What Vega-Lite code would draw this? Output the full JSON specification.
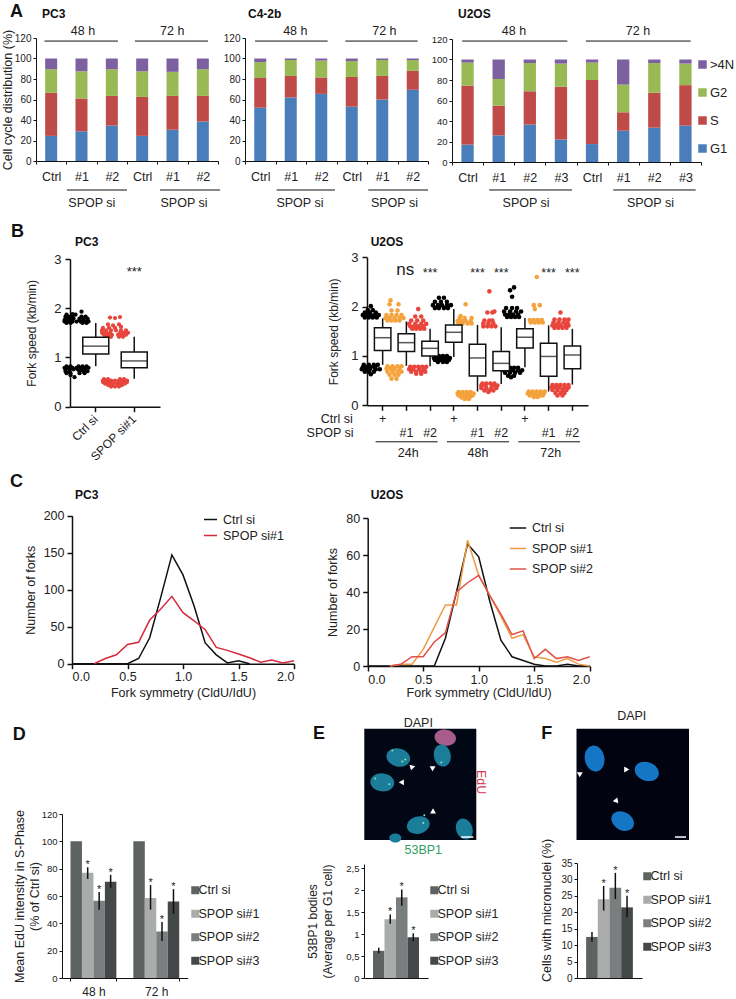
{"$schema":"https://vega.github.io/schema/vega-lite/v6.json","autosize":{"type":"none"},"padding":{"left":0,"top":38,"right":736,"bottom":961},"background":"white","resolve":{"scale":{"color":"independent","size":"independent"},"legend":{"color":"independent","size":"independent"}},"config":{"font":"Liberation Sans","view":{"stroke":null},"axis":{"grid":false,"labelOverlap":false,"domainColor":"#111","tickColor":"#111","labelColor":"#222","titleColor":"#222","titleFontWeight":"normal"},"legend":{"labelColor":"#222"},"title":{"color":"#111"}},
"datasets":{
"a1":[{"c":"48 Ctrl","p":"G1","v":24.5},{"c":"48 Ctrl","p":"S","v":42},{"c":"48 Ctrl","p":"G2","v":23},{"c":"48 Ctrl","p":">4N","v":10.5},{"c":"48 #1","p":"G1","v":29},{"c":"48 #1","p":"S","v":32},{"c":"48 #1","p":"G2","v":26.5},{"c":"48 #1","p":">4N","v":12.5},{"c":"48 #2","p":"G1","v":34.5},{"c":"48 #2","p":"S","v":29},{"c":"48 #2","p":"G2","v":26},{"c":"48 #2","p":">4N","v":10.5},{"c":"72 Ctrl","p":"G1","v":24.5},{"c":"72 Ctrl","p":"S","v":38},{"c":"72 Ctrl","p":"G2","v":25},{"c":"72 Ctrl","p":">4N","v":12.5},{"c":"72 #1","p":"G1","v":30.5},{"c":"72 #1","p":"S","v":33},{"c":"72 #1","p":"G2","v":23.5},{"c":"72 #1","p":">4N","v":13},{"c":"72 #2","p":"G1","v":38.5},{"c":"72 #2","p":"S","v":25},{"c":"72 #2","p":"G2","v":26},{"c":"72 #2","p":">4N","v":10.5}],
"a2":[{"c":"48 Ctrl","p":"G1","v":52},{"c":"48 Ctrl","p":"S","v":29},{"c":"48 Ctrl","p":"G2","v":15.5},{"c":"48 Ctrl","p":">4N","v":3.5},{"c":"48 #1","p":"G1","v":62},{"c":"48 #1","p":"S","v":21},{"c":"48 #1","p":"G2","v":15.5},{"c":"48 #1","p":">4N","v":1.5},{"c":"48 #2","p":"G1","v":65.5},{"c":"48 #2","p":"S","v":16},{"c":"48 #2","p":"G2","v":16.5},{"c":"48 #2","p":">4N","v":2},{"c":"72 Ctrl","p":"G1","v":53},{"c":"72 Ctrl","p":"S","v":29},{"c":"72 Ctrl","p":"G2","v":15.5},{"c":"72 Ctrl","p":">4N","v":2.5},{"c":"72 #1","p":"G1","v":60},{"c":"72 #1","p":"S","v":23},{"c":"72 #1","p":"G2","v":15.5},{"c":"72 #1","p":">4N","v":1.5},{"c":"72 #2","p":"G1","v":69.5},{"c":"72 #2","p":"S","v":18.5},{"c":"72 #2","p":"G2","v":10.5},{"c":"72 #2","p":">4N","v":1.5}],
"a3":[{"c":"48 Ctrl","p":"G1","v":17},{"c":"48 Ctrl","p":"S","v":57.5},{"c":"48 Ctrl","p":"G2","v":22.5},{"c":"48 Ctrl","p":">4N","v":3},{"c":"48 #1","p":"G1","v":26},{"c":"48 #1","p":"S","v":29},{"c":"48 #1","p":"G2","v":26},{"c":"48 #1","p":">4N","v":19},{"c":"48 #2","p":"G1","v":36.5},{"c":"48 #2","p":"S","v":32.5},{"c":"48 #2","p":"G2","v":27.5},{"c":"48 #2","p":">4N","v":3.5},{"c":"48 #3","p":"G1","v":22},{"c":"48 #3","p":"S","v":51.5},{"c":"48 #3","p":"G2","v":22.5},{"c":"48 #3","p":">4N","v":4},{"c":"72 Ctrl","p":"G1","v":17.5},{"c":"72 Ctrl","p":"S","v":62.5},{"c":"72 Ctrl","p":"G2","v":17},{"c":"72 Ctrl","p":">4N","v":3},{"c":"72 #1","p":"G1","v":30.5},{"c":"72 #1","p":"S","v":18},{"c":"72 #1","p":"G2","v":27},{"c":"72 #1","p":">4N","v":24.5},{"c":"72 #2","p":"G1","v":33.5},{"c":"72 #2","p":"S","v":34},{"c":"72 #2","p":"G2","v":29},{"c":"72 #2","p":">4N","v":3.5},{"c":"72 #3","p":"G1","v":35.5},{"c":"72 #3","p":"S","v":39.5},{"c":"72 #3","p":"G2","v":21},{"c":"72 #3","p":">4N","v":4}],
"b1box":[{"g":"Ctrl si","lo":0.82,"q1":1.07,"m":1.23,"q3":1.41,"hi":1.7},{"g":"SPOP si#1","lo":0.57,"q1":0.79,"m":0.93,"q3":1.11,"hi":1.42}],
"b1out":[{"g":"Ctrl si","d":-10,"v":1.7},{"g":"Ctrl si","d":-6,"v":1.7},{"g":"Ctrl si","d":6,"v":1.7},{"g":"Ctrl si","d":10,"v":1.7},{"g":"Ctrl si","d":-12,"v":1.73},{"g":"Ctrl si","d":-8,"v":1.73},{"g":"Ctrl si","d":-4,"v":1.73},{"g":"Ctrl si","d":0,"v":1.73},{"g":"Ctrl si","d":4,"v":1.73},{"g":"Ctrl si","d":8,"v":1.73},{"g":"Ctrl si","d":12,"v":1.73},{"g":"Ctrl si","d":-12,"v":1.76},{"g":"Ctrl si","d":-9,"v":1.76},{"g":"Ctrl si","d":-5,"v":1.76},{"g":"Ctrl si","d":3,"v":1.76},{"g":"Ctrl si","d":7,"v":1.76},{"g":"Ctrl si","d":11,"v":1.76},{"g":"Ctrl si","d":-11,"v":1.79},{"g":"Ctrl si","d":-7,"v":1.79},{"g":"Ctrl si","d":-3,"v":1.79},{"g":"Ctrl si","d":3,"v":1.79},{"g":"Ctrl si","d":7,"v":1.79},{"g":"Ctrl si","d":11,"v":1.79},{"g":"Ctrl si","d":-11,"v":1.83},{"g":"Ctrl si","d":-8,"v":1.83},{"g":"Ctrl si","d":-4,"v":1.83},{"g":"Ctrl si","d":5,"v":1.83},{"g":"Ctrl si","d":9,"v":1.83},{"g":"Ctrl si","d":-10,"v":1.87},{"g":"Ctrl si","d":-1,"v":1.87},{"g":"Ctrl si","d":-4,"v":1.88},{"g":"Ctrl si","d":5,"v":1.93},
{"g":"Ctrl si","d":-10,"v":0.82},{"g":"Ctrl si","d":-6,"v":0.82},{"g":"Ctrl si","d":2,"v":0.82},{"g":"Ctrl si","d":6,"v":0.82},{"g":"Ctrl si","d":10,"v":0.82},{"g":"Ctrl si","d":-12,"v":0.79},{"g":"Ctrl si","d":-8,"v":0.79},{"g":"Ctrl si","d":-4,"v":0.79},{"g":"Ctrl si","d":0,"v":0.79},{"g":"Ctrl si","d":4,"v":0.79},{"g":"Ctrl si","d":8,"v":0.79},{"g":"Ctrl si","d":12,"v":0.79},{"g":"Ctrl si","d":-11,"v":0.76},{"g":"Ctrl si","d":-7,"v":0.76},{"g":"Ctrl si","d":-3,"v":0.76},{"g":"Ctrl si","d":1,"v":0.76},{"g":"Ctrl si","d":5,"v":0.76},{"g":"Ctrl si","d":9,"v":0.76},{"g":"Ctrl si","d":-11,"v":0.72},{"g":"Ctrl si","d":-7,"v":0.72},{"g":"Ctrl si","d":3,"v":0.72},{"g":"Ctrl si","d":7,"v":0.72},{"g":"Ctrl si","d":11,"v":0.72},{"g":"Ctrl si","d":-10,"v":0.68},{"g":"Ctrl si","d":-6,"v":0.68},{"g":"Ctrl si","d":3,"v":0.68},{"g":"Ctrl si","d":8,"v":0.68},{"g":"Ctrl si","d":-6,"v":0.64},{"g":"Ctrl si","d":-2,"v":0.6},
{"g":"SPOP si#1","d":-8,"v":1.42},{"g":"SPOP si#1","d":-4,"v":1.42},{"g":"SPOP si#1","d":4,"v":1.42},{"g":"SPOP si#1","d":8,"v":1.42},{"g":"SPOP si#1","d":-11,"v":1.46},{"g":"SPOP si#1","d":-7,"v":1.46},{"g":"SPOP si#1","d":-3,"v":1.46},{"g":"SPOP si#1","d":3,"v":1.46},{"g":"SPOP si#1","d":7,"v":1.46},{"g":"SPOP si#1","d":11,"v":1.46},{"g":"SPOP si#1","d":-13,"v":1.5},{"g":"SPOP si#1","d":-9,"v":1.5},{"g":"SPOP si#1","d":-5,"v":1.5},{"g":"SPOP si#1","d":5,"v":1.5},{"g":"SPOP si#1","d":9,"v":1.5},{"g":"SPOP si#1","d":13,"v":1.5},{"g":"SPOP si#1","d":-13,"v":1.55},{"g":"SPOP si#1","d":-9,"v":1.55},{"g":"SPOP si#1","d":-4,"v":1.55},{"g":"SPOP si#1","d":1,"v":1.55},{"g":"SPOP si#1","d":6,"v":1.55},{"g":"SPOP si#1","d":11,"v":1.55},{"g":"SPOP si#1","d":-12,"v":1.6},{"g":"SPOP si#1","d":-6,"v":1.6},{"g":"SPOP si#1","d":0,"v":1.6},{"g":"SPOP si#1","d":6,"v":1.62},{"g":"SPOP si#1","d":-7,"v":1.67},{"g":"SPOP si#1","d":-2,"v":1.65},{"g":"SPOP si#1","d":4,"v":1.67},{"g":"SPOP si#1","d":-5,"v":1.81},{"g":"SPOP si#1","d":0,"v":1.8},{"g":"SPOP si#1","d":5,"v":1.82},
{"g":"SPOP si#1","d":-11,"v":0.56},{"g":"SPOP si#1","d":-7,"v":0.56},{"g":"SPOP si#1","d":5,"v":0.56},{"g":"SPOP si#1","d":9,"v":0.56},{"g":"SPOP si#1","d":-12,"v":0.53},{"g":"SPOP si#1","d":-8,"v":0.53},{"g":"SPOP si#1","d":-4,"v":0.53},{"g":"SPOP si#1","d":0,"v":0.53},{"g":"SPOP si#1","d":4,"v":0.53},{"g":"SPOP si#1","d":8,"v":0.53},{"g":"SPOP si#1","d":12,"v":0.53},{"g":"SPOP si#1","d":-12,"v":0.5},{"g":"SPOP si#1","d":-8,"v":0.5},{"g":"SPOP si#1","d":-4,"v":0.5},{"g":"SPOP si#1","d":4,"v":0.5},{"g":"SPOP si#1","d":8,"v":0.5},{"g":"SPOP si#1","d":12,"v":0.5},{"g":"SPOP si#1","d":-10,"v":0.47},{"g":"SPOP si#1","d":-6,"v":0.47},{"g":"SPOP si#1","d":-2,"v":0.47},{"g":"SPOP si#1","d":2,"v":0.47},{"g":"SPOP si#1","d":6,"v":0.47},{"g":"SPOP si#1","d":10,"v":0.47},{"g":"SPOP si#1","d":-7,"v":0.44},{"g":"SPOP si#1","d":-3,"v":0.44},{"g":"SPOP si#1","d":3,"v":0.44},{"g":"SPOP si#1","d":7,"v":0.44},{"g":"SPOP si#1","d":-4,"v":0.41},{"g":"SPOP si#1","d":0,"v":0.41},{"g":"SPOP si#1","d":4,"v":0.41}],
"b2box":[{"g":"24 Ctrl","lo":0.82,"q1":1.11,"m":1.37,"q3":1.57,"hi":1.76},{"g":"24 #1","lo":0.8,"q1":1.09,"m":1.27,"q3":1.45,"hi":1.7},{"g":"24 #2","lo":0.79,"q1":1,"m":1.155,"q3":1.3,"hi":1.55},{"g":"48 Ctrl","lo":0.98,"q1":1.28,"m":1.48,"q3":1.63,"hi":1.95},{"g":"48 #1","lo":0.28,"q1":0.595,"m":0.96,"q3":1.24,"hi":1.63},{"g":"48 #2","lo":0.43,"q1":0.7,"m":0.85,"q3":1.09,"hi":1.58},{"g":"72 Ctrl","lo":0.77,"q1":1.16,"m":1.38,"q3":1.55,"hi":1.77},{"g":"72 #1","lo":0.28,"q1":0.59,"m":0.99,"q3":1.26,"hi":1.62},{"g":"72 #2","lo":0.42,"q1":0.74,"m":1.02,"q3":1.2,"hi":1.55}],
"b2out":[{"g":"24 Ctrl","d":-6,"v":1.78},{"g":"24 Ctrl","d":-2,"v":1.78},{"g":"24 Ctrl","d":2,"v":1.78},{"g":"24 Ctrl","d":6,"v":1.78},{"g":"24 Ctrl","d":-8,"v":1.83},{"g":"24 Ctrl","d":-4,"v":1.83},{"g":"24 Ctrl","d":0,"v":1.83},{"g":"24 Ctrl","d":4,"v":1.83},{"g":"24 Ctrl","d":8,"v":1.83},{"g":"24 Ctrl","d":-6,"v":1.88},{"g":"24 Ctrl","d":-1,"v":1.88},{"g":"24 Ctrl","d":5,"v":1.88},{"g":"24 Ctrl","d":-3,"v":1.93},{"g":"24 Ctrl","d":2,"v":1.93},{"g":"24 Ctrl","d":0,"v":2.01},{"g":"24 Ctrl","d":-7,"v":0.82},{"g":"24 Ctrl","d":-2,"v":0.82},{"g":"24 Ctrl","d":3,"v":0.82},{"g":"24 Ctrl","d":7,"v":0.82},{"g":"24 Ctrl","d":-8,"v":0.77},{"g":"24 Ctrl","d":-4,"v":0.77},{"g":"24 Ctrl","d":0,"v":0.77},{"g":"24 Ctrl","d":4,"v":0.77},{"g":"24 Ctrl","d":-9,"v":0.73},{"g":"24 Ctrl","d":-5,"v":0.73},{"g":"24 Ctrl","d":-1,"v":0.73},{"g":"24 Ctrl","d":5,"v":0.73},{"g":"24 Ctrl","d":9,"v":0.73},{"g":"24 Ctrl","d":-6,"v":0.68},{"g":"24 Ctrl","d":-2,"v":0.68},{"g":"24 Ctrl","d":3,"v":0.68},{"g":"24 Ctrl","d":0,"v":0.63},
{"g":"24 #1","d":-7,"v":1.72},{"g":"24 #1","d":-3,"v":1.72},{"g":"24 #1","d":1,"v":1.72},{"g":"24 #1","d":5,"v":1.72},{"g":"24 #1","d":-9,"v":1.77},{"g":"24 #1","d":-5,"v":1.77},{"g":"24 #1","d":0,"v":1.77},{"g":"24 #1","d":5,"v":1.77},{"g":"24 #1","d":9,"v":1.77},{"g":"24 #1","d":-8,"v":1.83},{"g":"24 #1","d":-3,"v":1.83},{"g":"24 #1","d":2,"v":1.83},{"g":"24 #1","d":7,"v":1.83},{"g":"24 #1","d":-3,"v":1.92},{"g":"24 #1","d":3,"v":1.92},{"g":"24 #1","d":-5,"v":2.05},{"g":"24 #1","d":4,"v":2.05},{"g":"24 #1","d":-4,"v":2.13},{"g":"24 #1","d":-7,"v":0.79},{"g":"24 #1","d":-2,"v":0.79},{"g":"24 #1","d":3,"v":0.79},{"g":"24 #1","d":7,"v":0.79},{"g":"24 #1","d":-8,"v":0.74},{"g":"24 #1","d":-4,"v":0.74},{"g":"24 #1","d":0,"v":0.74},{"g":"24 #1","d":5,"v":0.74},{"g":"24 #1","d":-7,"v":0.68},{"g":"24 #1","d":-2,"v":0.68},{"g":"24 #1","d":3,"v":0.68},{"g":"24 #1","d":7,"v":0.68},{"g":"24 #1","d":-5,"v":0.62},{"g":"24 #1","d":0,"v":0.62},{"g":"24 #1","d":4,"v":0.62},{"g":"24 #1","d":-3,"v":0.54},{"g":"24 #1","d":2,"v":0.54},
{"g":"24 #2","d":-6,"v":1.55},{"g":"24 #2","d":-2,"v":1.55},{"g":"24 #2","d":2,"v":1.55},{"g":"24 #2","d":6,"v":1.55},{"g":"24 #2","d":-8,"v":1.6},{"g":"24 #2","d":-4,"v":1.6},{"g":"24 #2","d":0,"v":1.6},{"g":"24 #2","d":5,"v":1.6},{"g":"24 #2","d":-9,"v":1.65},{"g":"24 #2","d":-3,"v":1.65},{"g":"24 #2","d":3,"v":1.65},{"g":"24 #2","d":8,"v":1.65},{"g":"24 #2","d":-7,"v":1.72},{"g":"24 #2","d":-1,"v":1.72},{"g":"24 #2","d":5,"v":1.72},{"g":"24 #2","d":-3,"v":1.8},{"g":"24 #2","d":3,"v":1.8},{"g":"24 #2","d":0,"v":1.95},{"g":"24 #2","d":-8,"v":0.78},{"g":"24 #2","d":-4,"v":0.78},{"g":"24 #2","d":0,"v":0.78},{"g":"24 #2","d":4,"v":0.78},{"g":"24 #2","d":8,"v":0.78},{"g":"24 #2","d":-9,"v":0.73},{"g":"24 #2","d":-5,"v":0.73},{"g":"24 #2","d":1,"v":0.73},{"g":"24 #2","d":6,"v":0.73},{"g":"24 #2","d":-7,"v":0.68},{"g":"24 #2","d":-2,"v":0.68},{"g":"24 #2","d":3,"v":0.68},{"g":"24 #2","d":7,"v":0.68},{"g":"24 #2","d":-2,"v":0.64},{"g":"24 #2","d":3,"v":0.64},
{"g":"48 Ctrl","d":-7,"v":1.97},{"g":"48 Ctrl","d":-3,"v":1.97},{"g":"48 Ctrl","d":2,"v":1.97},{"g":"48 Ctrl","d":6,"v":1.97},{"g":"48 Ctrl","d":-9,"v":2.03},{"g":"48 Ctrl","d":-4,"v":2.03},{"g":"48 Ctrl","d":0,"v":2.03},{"g":"48 Ctrl","d":5,"v":2.03},{"g":"48 Ctrl","d":9,"v":2.03},{"g":"48 Ctrl","d":-7,"v":2.1},{"g":"48 Ctrl","d":-1,"v":2.1},{"g":"48 Ctrl","d":5,"v":2.1},{"g":"48 Ctrl","d":-3,"v":2.18},{"g":"48 Ctrl","d":2,"v":2.18},{"g":"48 Ctrl","d":-7,"v":1},{"g":"48 Ctrl","d":-3,"v":1},{"g":"48 Ctrl","d":1,"v":1},{"g":"48 Ctrl","d":5,"v":1},{"g":"48 Ctrl","d":-8,"v":0.96},{"g":"48 Ctrl","d":-4,"v":0.96},{"g":"48 Ctrl","d":0,"v":0.96},{"g":"48 Ctrl","d":4,"v":0.96},{"g":"48 Ctrl","d":8,"v":0.96},{"g":"48 Ctrl","d":-7,"v":0.92},{"g":"48 Ctrl","d":-2,"v":0.92},{"g":"48 Ctrl","d":3,"v":0.92},{"g":"48 Ctrl","d":7,"v":0.92},{"g":"48 Ctrl","d":-4,"v":0.88},{"g":"48 Ctrl","d":1,"v":0.88},{"g":"48 Ctrl","d":5,"v":0.88},
{"g":"48 #1","d":-7,"v":1.66},{"g":"48 #1","d":-3,"v":1.66},{"g":"48 #1","d":2,"v":1.66},{"g":"48 #1","d":6,"v":1.66},{"g":"48 #1","d":-8,"v":1.71},{"g":"48 #1","d":-4,"v":1.71},{"g":"48 #1","d":0,"v":1.71},{"g":"48 #1","d":5,"v":1.71},{"g":"48 #1","d":-6,"v":1.77},{"g":"48 #1","d":-1,"v":1.77},{"g":"48 #1","d":6,"v":1.77},{"g":"48 #1","d":-5,"v":1.81},{"g":"48 #1","d":0,"v":2.05},{"g":"48 #1","d":-7,"v":0.27},{"g":"48 #1","d":-3,"v":0.27},{"g":"48 #1","d":1,"v":0.27},{"g":"48 #1","d":5,"v":0.27},{"g":"48 #1","d":-8,"v":0.24},{"g":"48 #1","d":-4,"v":0.24},{"g":"48 #1","d":0,"v":0.24},{"g":"48 #1","d":4,"v":0.24},{"g":"48 #1","d":8,"v":0.24},{"g":"48 #1","d":-7,"v":0.2},{"g":"48 #1","d":-2,"v":0.2},{"g":"48 #1","d":3,"v":0.2},{"g":"48 #1","d":7,"v":0.2},{"g":"48 #1","d":-4,"v":0.16},{"g":"48 #1","d":0,"v":0.16},{"g":"48 #1","d":4,"v":0.16},{"g":"48 #1","d":-1,"v":0.13},{"g":"48 #1","d":3,"v":0.13},
{"g":"48 #2","d":-6,"v":1.6},{"g":"48 #2","d":-2,"v":1.6},{"g":"48 #2","d":2,"v":1.6},{"g":"48 #2","d":6,"v":1.6},{"g":"48 #2","d":-6,"v":1.66},{"g":"48 #2","d":-1,"v":1.66},{"g":"48 #2","d":4,"v":1.66},{"g":"48 #2","d":-5,"v":1.72},{"g":"48 #2","d":0,"v":1.72},{"g":"48 #2","d":3,"v":1.72},{"g":"48 #2","d":-2,"v":1.88},{"g":"48 #2","d":3,"v":1.88},{"g":"48 #2","d":5,"v":1.9},{"g":"48 #2","d":0,"v":2.31},{"g":"48 #2","d":-7,"v":0.44},{"g":"48 #2","d":-3,"v":0.44},{"g":"48 #2","d":1,"v":0.44},{"g":"48 #2","d":5,"v":0.44},{"g":"48 #2","d":-8,"v":0.4},{"g":"48 #2","d":-4,"v":0.4},{"g":"48 #2","d":4,"v":0.4},{"g":"48 #2","d":8,"v":0.4},{"g":"48 #2","d":-8,"v":0.35},{"g":"48 #2","d":-3,"v":0.35},{"g":"48 #2","d":2,"v":0.35},{"g":"48 #2","d":7,"v":0.35},{"g":"48 #2","d":-5,"v":0.3},{"g":"48 #2","d":0,"v":0.3},{"g":"48 #2","d":4,"v":0.3},{"g":"48 #2","d":-1,"v":0.27},
{"g":"72 Ctrl","d":-6,"v":1.79},{"g":"72 Ctrl","d":-2,"v":1.79},{"g":"72 Ctrl","d":2,"v":1.79},{"g":"72 Ctrl","d":6,"v":1.79},{"g":"72 Ctrl","d":-8,"v":1.84},{"g":"72 Ctrl","d":-4,"v":1.84},{"g":"72 Ctrl","d":0,"v":1.84},{"g":"72 Ctrl","d":5,"v":1.84},{"g":"72 Ctrl","d":-9,"v":1.9},{"g":"72 Ctrl","d":-3,"v":1.9},{"g":"72 Ctrl","d":3,"v":1.9},{"g":"72 Ctrl","d":8,"v":1.9},{"g":"72 Ctrl","d":-7,"v":1.97},{"g":"72 Ctrl","d":-1,"v":1.97},{"g":"72 Ctrl","d":4,"v":1.97},{"g":"72 Ctrl","d":-1,"v":2.2},{"g":"72 Ctrl","d":-3,"v":2.33},{"g":"72 Ctrl","d":1,"v":2.39},{"g":"72 Ctrl","d":-7,"v":0.76},{"g":"72 Ctrl","d":-3,"v":0.76},{"g":"72 Ctrl","d":1,"v":0.76},{"g":"72 Ctrl","d":5,"v":0.76},{"g":"72 Ctrl","d":-9,"v":0.71},{"g":"72 Ctrl","d":-4,"v":0.71},{"g":"72 Ctrl","d":0,"v":0.71},{"g":"72 Ctrl","d":5,"v":0.71},{"g":"72 Ctrl","d":9,"v":0.71},{"g":"72 Ctrl","d":-8,"v":0.66},{"g":"72 Ctrl","d":-3,"v":0.66},{"g":"72 Ctrl","d":2,"v":0.66},{"g":"72 Ctrl","d":7,"v":0.66},{"g":"72 Ctrl","d":-5,"v":0.6},{"g":"72 Ctrl","d":1,"v":0.6},{"g":"72 Ctrl","d":-2,"v":0.57},
{"g":"72 #1","d":-6,"v":1.68},{"g":"72 #1","d":-2,"v":1.68},{"g":"72 #1","d":2,"v":1.68},{"g":"72 #1","d":6,"v":1.68},{"g":"72 #1","d":-7,"v":1.73},{"g":"72 #1","d":-3,"v":1.73},{"g":"72 #1","d":1,"v":1.73},{"g":"72 #1","d":5,"v":1.73},{"g":"72 #1","d":-2,"v":1.95},{"g":"72 #1","d":-3,"v":2.03},{"g":"72 #1","d":3,"v":2.03},{"g":"72 #1","d":0,"v":2.6},{"g":"72 #1","d":-8,"v":0.28},{"g":"72 #1","d":-4,"v":0.28},{"g":"72 #1","d":0,"v":0.28},{"g":"72 #1","d":4,"v":0.28},{"g":"72 #1","d":8,"v":0.28},{"g":"72 #1","d":-9,"v":0.24},{"g":"72 #1","d":-5,"v":0.24},{"g":"72 #1","d":-1,"v":0.24},{"g":"72 #1","d":3,"v":0.24},{"g":"72 #1","d":7,"v":0.24},{"g":"72 #1","d":-7,"v":0.2},{"g":"72 #1","d":-2,"v":0.2},{"g":"72 #1","d":3,"v":0.2},{"g":"72 #1","d":6,"v":0.2},{"g":"72 #1","d":-3,"v":0.17},{"g":"72 #1","d":1,"v":0.17},
{"g":"72 #2","d":-6,"v":1.57},{"g":"72 #2","d":-2,"v":1.57},{"g":"72 #2","d":2,"v":1.57},{"g":"72 #2","d":6,"v":1.57},{"g":"72 #2","d":-8,"v":1.62},{"g":"72 #2","d":-4,"v":1.62},{"g":"72 #2","d":0,"v":1.62},{"g":"72 #2","d":5,"v":1.62},{"g":"72 #2","d":8,"v":1.62},{"g":"72 #2","d":-7,"v":1.68},{"g":"72 #2","d":-2,"v":1.68},{"g":"72 #2","d":3,"v":1.68},{"g":"72 #2","d":7,"v":1.68},{"g":"72 #2","d":-6,"v":1.74},{"g":"72 #2","d":-1,"v":1.74},{"g":"72 #2","d":4,"v":1.74},{"g":"72 #2","d":8,"v":1.74},{"g":"72 #2","d":0,"v":1.88},{"g":"72 #2","d":-8,"v":0.41},{"g":"72 #2","d":-4,"v":0.41},{"g":"72 #2","d":0,"v":0.41},{"g":"72 #2","d":4,"v":0.41},{"g":"72 #2","d":8,"v":0.41},{"g":"72 #2","d":-9,"v":0.36},{"g":"72 #2","d":-5,"v":0.36},{"g":"72 #2","d":-1,"v":0.36},{"g":"72 #2","d":4,"v":0.36},{"g":"72 #2","d":8,"v":0.36},{"g":"72 #2","d":-8,"v":0.31},{"g":"72 #2","d":-3,"v":0.31},{"g":"72 #2","d":2,"v":0.31},{"g":"72 #2","d":6,"v":0.31},{"g":"72 #2","d":-5,"v":0.25},{"g":"72 #2","d":0,"v":0.25},{"g":"72 #2","d":4,"v":0.25},{"g":"72 #2","d":-3,"v":0.2},{"g":"72 #2","d":2,"v":0.2}],
"c1":[{"s":"Ctrl si","x":0,"n":0},{"s":"Ctrl si","x":0.5,"n":0},{"s":"Ctrl si","x":0.6,"n":7},{"s":"Ctrl si","x":0.7,"n":35},{"s":"Ctrl si","x":0.8,"n":90},{"s":"Ctrl si","x":0.9,"n":147},{"s":"Ctrl si","x":1,"n":120},{"s":"Ctrl si","x":1.1,"n":78},{"s":"Ctrl si","x":1.2,"n":28},{"s":"Ctrl si","x":1.3,"n":12},{"s":"Ctrl si","x":1.4,"n":1},{"s":"Ctrl si","x":1.5,"n":4},{"s":"Ctrl si","x":1.6,"n":0},{"s":"SPOP si#1","x":0.2,"n":0},{"s":"SPOP si#1","x":0.3,"n":7},{"s":"SPOP si#1","x":0.4,"n":12},{"s":"SPOP si#1","x":0.5,"n":26},{"s":"SPOP si#1","x":0.6,"n":29},{"s":"SPOP si#1","x":0.7,"n":59},{"s":"SPOP si#1","x":0.8,"n":74},{"s":"SPOP si#1","x":0.9,"n":91},{"s":"SPOP si#1","x":1,"n":69},{"s":"SPOP si#1","x":1.1,"n":58},{"s":"SPOP si#1","x":1.2,"n":46},{"s":"SPOP si#1","x":1.3,"n":22},{"s":"SPOP si#1","x":1.4,"n":18},{"s":"SPOP si#1","x":1.5,"n":13},{"s":"SPOP si#1","x":1.6,"n":8},{"s":"SPOP si#1","x":1.7,"n":2},{"s":"SPOP si#1","x":1.8,"n":5},{"s":"SPOP si#1","x":1.9,"n":1},{"s":"SPOP si#1","x":2,"n":4}],
"c2":[{"s":"Ctrl si","x":0,"n":0},{"s":"Ctrl si","x":0.6,"n":0},{"s":"Ctrl si","x":0.7,"n":15},{"s":"Ctrl si","x":0.8,"n":40},{"s":"Ctrl si","x":0.9,"n":66},{"s":"Ctrl si","x":1,"n":59},{"s":"Ctrl si","x":1.1,"n":35},{"s":"Ctrl si","x":1.2,"n":14},{"s":"Ctrl si","x":1.3,"n":5},{"s":"Ctrl si","x":1.4,"n":3},{"s":"Ctrl si","x":1.5,"n":1},{"s":"Ctrl si","x":1.6,"n":0},{"s":"Ctrl si","x":1.7,"n":0},{"s":"Ctrl si","x":1.8,"n":1},{"s":"Ctrl si","x":1.9,"n":0},{"s":"Ctrl si","x":2,"n":0},{"s":"SPOP si#1","x":0.2,"n":0},{"s":"SPOP si#1","x":0.3,"n":1},{"s":"SPOP si#1","x":0.4,"n":1},{"s":"SPOP si#1","x":0.5,"n":9},{"s":"SPOP si#1","x":0.6,"n":21},{"s":"SPOP si#1","x":0.7,"n":33},{"s":"SPOP si#1","x":0.8,"n":33},{"s":"SPOP si#1","x":0.9,"n":68},{"s":"SPOP si#1","x":1,"n":49},{"s":"SPOP si#1","x":1.1,"n":38},{"s":"SPOP si#1","x":1.2,"n":27},{"s":"SPOP si#1","x":1.3,"n":15},{"s":"SPOP si#1","x":1.4,"n":17},{"s":"SPOP si#1","x":1.5,"n":5},{"s":"SPOP si#1","x":1.6,"n":4},{"s":"SPOP si#1","x":1.7,"n":2},{"s":"SPOP si#1","x":1.8,"n":4},{"s":"SPOP si#1","x":1.9,"n":1},{"s":"SPOP si#1","x":2,"n":0},{"s":"SPOP si#2","x":0.2,"n":0},{"s":"SPOP si#2","x":0.3,"n":1},{"s":"SPOP si#2","x":0.4,"n":5},{"s":"SPOP si#2","x":0.5,"n":5},{"s":"SPOP si#2","x":0.6,"n":13},{"s":"SPOP si#2","x":0.7,"n":18},{"s":"SPOP si#2","x":0.8,"n":40},{"s":"SPOP si#2","x":0.9,"n":45},{"s":"SPOP si#2","x":1,"n":49},{"s":"SPOP si#2","x":1.1,"n":38},{"s":"SPOP si#2","x":1.2,"n":28},{"s":"SPOP si#2","x":1.3,"n":17},{"s":"SPOP si#2","x":1.4,"n":19},{"s":"SPOP si#2","x":1.5,"n":4},{"s":"SPOP si#2","x":1.6,"n":9},{"s":"SPOP si#2","x":1.7,"n":4},{"s":"SPOP si#2","x":1.8,"n":5},{"s":"SPOP si#2","x":1.9,"n":3},{"s":"SPOP si#2","x":2,"n":5}],
"d":[{"t":"48 h","g":"Ctrl si","v":100},{"t":"48 h","g":"SPOP si#1","v":77,"lo":72.5,"hi":81},{"t":"48 h","g":"SPOP si#2","v":56.5,"lo":50,"hi":63},{"t":"48 h","g":"SPOP si#3","v":70.5,"lo":66,"hi":75.5},{"t":"72 h","g":"Ctrl si","v":100},{"t":"72 h","g":"SPOP si#1","v":58.5,"lo":50,"hi":68},{"t":"72 h","g":"SPOP si#2","v":34,"lo":27,"hi":41},{"t":"72 h","g":"SPOP si#3","v":56,"lo":47,"hi":65}],
"e":[{"g":"Ctrl si","v":0.62,"lo":0.56,"hi":0.69},{"g":"SPOP si#1","v":1.34,"lo":1.24,"hi":1.45},{"g":"SPOP si#2","v":1.84,"lo":1.65,"hi":2.02},{"g":"SPOP si#3","v":0.93,"lo":0.84,"hi":1.02}],
"f":[{"g":"Ctrl si","v":12.5,"lo":11,"hi":14},{"g":"SPOP si#1","v":24,"lo":20.5,"hi":28},{"g":"SPOP si#2","v":27.5,"lo":24,"hi":32},{"g":"SPOP si#3","v":21.5,"lo":18.5,"hi":25}],
"blank":[{}]
},
"concat":[
{"width":36,"height":1,"title":{"text":"A","anchor":"start","frame":"group","dx":10,"dy":3,"fontSize":18,"fontWeight":"bold","baseline":"alphabetic"},"data":{"name":"blank"},"mark":{"type":"point","opacity":0},"encoding":{}},
{"width":209,"height":123,"title":{"text":"PC3","anchor":"start","frame":"group","dx":6,"dy":9,"fontSize":12,"fontWeight":"bold","baseline":"alphabetic"},
"resolve":{"scale":{"x":"independent"},"axis":{"x":"independent"}},
"layer":[
{"data":{"name":"a1"},"transform":[{"calculate":"indexof(['G1','S','G2','>4N'],datum.p)","as":"o"}],"mark":{"type":"bar","width":12},"encoding":{"x":{"field":"c","type":"nominal","sort":null,"scale":{"domain":["48 Ctrl","48 #1","48 #2","72 Ctrl","72 #1","72 #2"],"range":[0,182],"paddingInner":0,"paddingOuter":0},"axis":{"title":null,"labelAngle":0,"labelFontSize":12.5,"labelExpr":"split(datum.label,' ')[1]","tickBand":"extent","tickSize":3,"labelPadding":6}},"y":{"field":"v","type":"quantitative","scale":{"domain":[0,120],"range":[123,0]},"axis":{"values":[0,20,40,60,80,100,120],"tickCount":10,"labelOverlap":false,"title":"Cell cycle distribution (%)","titleFontSize":12.5,"labelFontSize":10,"tickSize":3,"labelPadding":2,"titlePadding":0}},"order":{"field":"o"},"color":{"field":"p","type":"nominal","scale":{"domain":[">4N","G2","S","G1"],"range":["#7d60a0","#98b954","#be4b48","#4a7ebb"]},"legend":null}}},
{"data":{"values":[{"x":0.28,"x2":2.7,"y":117},{"x":3.26,"x2":5.67,"y":117},{"x":1.02,"x2":3,"y":-28.3},{"x":4.09,"x2":6.07,"y":-28.3}]},"mark":{"type":"rule","color":"#111","strokeWidth":1},"encoding":{"x":{"field":"x","type":"quantitative","scale":{"domain":[0,6],"range":[0,182]},"axis":null},"x2":{"field":"x2"},"y":{"field":"y","type":"quantitative"}}},
{"data":{"values":[{"x":1.55,"y":123,"t":"48 h"},{"x":4.49,"y":123,"t":"72 h"},{"x":1.84,"y":-45,"t":"SPOP si"},{"x":4.88,"y":-45,"t":"SPOP si"}]},"mark":{"type":"text","fontSize":12.5,"baseline":"alphabetic","color":"#222"},"encoding":{"x":{"field":"x","type":"quantitative","scale":{"domain":[0,6],"range":[0,182]},"axis":null},"y":{"field":"y","type":"quantitative"},"text":{"field":"t"}}}
]},
{"width":119,"height":123,"title":{"text":"C4-2b","anchor":"start","frame":"group","dx":3,"dy":9,"fontSize":12,"fontWeight":"bold","baseline":"alphabetic"},
"resolve":{"scale":{"x":"independent"},"axis":{"x":"independent"}},
"layer":[
{"data":{"name":"a2"},"transform":[{"calculate":"indexof(['G1','S','G2','>4N'],datum.p)","as":"o"}],"mark":{"type":"bar","width":12},"encoding":{"x":{"field":"c","type":"nominal","sort":null,"scale":{"domain":["48 Ctrl","48 #1","48 #2","72 Ctrl","72 #1","72 #2"],"range":[0,183],"paddingInner":0,"paddingOuter":0},"axis":{"title":null,"labelAngle":0,"labelFontSize":12.5,"labelExpr":"split(datum.label,' ')[1]","tickBand":"extent","tickSize":3,"labelPadding":6}},"y":{"field":"v","type":"quantitative","scale":{"domain":[0,120],"range":[123,0]},"axis":{"values":[0,20,40,60,80,100,120],"tickCount":10,"labelOverlap":false,"title":null,"labelFontSize":10,"tickSize":3,"labelPadding":2}},"order":{"field":"o"},"color":{"field":"p","type":"nominal","scale":{"domain":[">4N","G2","S","G1"],"range":["#7d60a0","#98b954","#be4b48","#4a7ebb"]},"legend":null}}},
{"data":{"values":[{"x":0.33,"x2":2.71,"y":117},{"x":3.29,"x2":5.66,"y":117},{"x":1.04,"x2":2.95,"y":-28.3},{"x":4.04,"x2":6,"y":-28.3}]},"mark":{"type":"rule","color":"#111","strokeWidth":1},"encoding":{"x":{"field":"x","type":"quantitative","scale":{"domain":[0,6],"range":[0,183]},"axis":null},"x2":{"field":"x2"},"y":{"field":"y","type":"quantitative"}}},
{"data":{"values":[{"x":1.65,"y":123,"t":"48 h"},{"x":4.57,"y":123,"t":"72 h"},{"x":1.8,"y":-45,"t":"SPOP si"},{"x":4.9,"y":-45,"t":"SPOP si"}]},"mark":{"type":"text","fontSize":12.5,"baseline":"alphabetic","color":"#222"},"encoding":{"x":{"field":"x","type":"quantitative","scale":{"domain":[0,6],"range":[0,183]},"axis":null},"y":{"field":"y","type":"quantitative"},"text":{"field":"t"}}}
]},
{"width":1,"height":1,"data":{"name":"blank"},"mark":{"type":"point","opacity":0},"encoding":{}},
{"width":124.8,"height":123,"title":{"text":"U2OS","anchor":"start","frame":"group","dx":6,"dy":9,"fontSize":12,"fontWeight":"bold","baseline":"alphabetic"},
"resolve":{"scale":{"x":"independent"},"axis":{"x":"independent"}},
"layer":[
{"data":{"name":"a3"},"transform":[{"calculate":"indexof(['G1','S','G2','>4N'],datum.p)","as":"o"}],"mark":{"type":"bar","width":12.3},"encoding":{"x":{"field":"c","type":"nominal","sort":null,"scale":{"domain":["48 Ctrl","48 #1","48 #2","48 #3","72 Ctrl","72 #1","72 #2","72 #3"],"range":[0,249],"paddingInner":0,"paddingOuter":0},"axis":{"title":null,"labelAngle":0,"labelFontSize":12.5,"labelExpr":"split(datum.label,' ')[1]","tickBand":"extent","tickSize":3,"labelPadding":6,"offset":1}},"y":{"field":"v","type":"quantitative","scale":{"domain":[0,120],"range":[124,1]},"axis":{"values":[0,20,40,60,80,100,120],"tickCount":10,"labelOverlap":false,"title":null,"labelFontSize":9.5,"tickSize":3,"labelPadding":2}},"order":{"field":"o"},"color":{"field":"p","type":"nominal","scale":{"domain":[">4N","G2","S","G1"],"range":["#7d60a0","#98b954","#be4b48","#4a7ebb"]},"legend":{"orient":"none","legendX":244,"legendY":20,"title":null,"symbolType":"square","symbolSize":72,"symbolStrokeWidth":0,"labelFontSize":13,"rowPadding":14,"labelOffset":1}}}},
{"data":{"values":[{"x":0.33,"x2":3.72,"y":118},{"x":4.32,"x2":7.7,"y":118},{"x":1.2,"x2":3.87,"y":-27.3},{"x":5.2,"x2":7.86,"y":-27.3}]},"mark":{"type":"rule","color":"#111","strokeWidth":1},"encoding":{"x":{"field":"x","type":"quantitative","scale":{"domain":[0,8],"range":[0,248]},"axis":null},"x2":{"field":"x2"},"y":{"field":"y","type":"quantitative"}}},
{"data":{"values":[{"x":2,"y":124,"t":"48 h"},{"x":6,"y":124,"t":"72 h"},{"x":2.39,"y":-44,"t":"SPOP si"},{"x":6.4,"y":-44,"t":"SPOP si"}]},"mark":{"type":"text","fontSize":12.5,"baseline":"alphabetic","color":"#222"},"encoding":{"x":{"field":"x","type":"quantitative","scale":{"domain":[0,8],"range":[0,248]},"axis":null},"y":{"field":"y","type":"quantitative"},"text":{"field":"t"}}}
]},
{"width":100,"height":1,"data":{"name":"blank"},"mark":{"type":"point","opacity":0},"encoding":{}},

{"width":36,"height":1,"title":{"text":"B","anchor":"start","frame":"group","dx":11,"dy":100,"fontSize":18,"fontWeight":"bold","baseline":"alphabetic"},"data":{"name":"blank"},"mark":{"type":"point","opacity":0},"encoding":{}},
{"width":209,"height":245,"title":{"text":"PC3","anchor":"start","frame":"group","dx":39,"dy":101,"fontSize":12,"fontWeight":"bold","baseline":"alphabetic"},
"encoding":{"x":{"field":"g","type":"nominal","sort":null,"scale":{"domain":["Ctrl si","SPOP si#1"],"range":[34,124],"paddingInner":0,"paddingOuter":0.17},"axis":{"title":null,"labelAngle":-45,"labelAlign":"right","labelBaseline":"middle","labelFontSize":12,"tickSize":5,"tickWidth":1.5,"domainWidth":1.5,"labelPadding":5,"offset":0.7}}},
"layer":[
{"data":{"name":"b1out"},"mark":{"type":"circle","size":18,"opacity":1},"encoding":{"xOffset":{"field":"d","type":"quantitative","scale":{"domain":[-13,13],"range":[-13,13]}},"y":{"field":"v","type":"quantitative","scale":{"domain":[0,3],"range":[245.7,98]},"axis":{"values":[0,1,2,3],"format":"d","labelOverlap":false,"title":"Fork speed (kb/min)","titleFontSize":12,"labelFontSize":13,"tickSize":5,"tickWidth":1.5,"domainWidth":1.5,"labelPadding":4,"titlePadding":15,"offset":-34}},"color":{"field":"g","type":"nominal","scale":{"domain":["Ctrl si","SPOP si#1"],"range":["#000000","#e8453c"]},"legend":null}}},
{"data":{"name":"b1box"},"mark":{"type":"rule","color":"#111","strokeWidth":1.5},"encoding":{"y":{"field":"lo","type":"quantitative"},"y2":{"field":"hi"}}},
{"data":{"name":"b1box"},"mark":{"type":"bar","width":26,"fill":"white","stroke":"#111","strokeWidth":1.5},"encoding":{"y":{"field":"q1","type":"quantitative"},"y2":{"field":"q3"}}},
{"data":{"name":"b1box"},"mark":{"type":"tick","size":26,"thickness":1.5,"color":"#111"},"encoding":{"y":{"field":"m","type":"quantitative"}}},
{"data":{"values":[{"g":"SPOP si#1","y":2.65,"t":"***"}]},"mark":{"type":"text","fontSize":13,"baseline":"alphabetic","color":"#222"},"encoding":{"y":{"field":"y","type":"quantitative"},"text":{"field":"t"}}}
]},
{"width":1,"height":1,"data":{"name":"blank"},"mark":{"type":"point","opacity":0},"encoding":{}},
{"width":88,"height":245,"title":{"text":"U2OS","anchor":"start","frame":"group","dx":6.7,"dy":101,"fontSize":12,"fontWeight":"bold","baseline":"alphabetic"},
"resolve":{"scale":{"x":"independent"},"axis":{"x":"independent"}},
"layer":[
{"encoding":{"x":{"field":"g","type":"nominal","sort":null,"scale":{"domain":["24 Ctrl","24 #1","24 #2","48 Ctrl","48 #1","48 #2","72 Ctrl","72 #1","72 #2"],"range":[3,224],"paddingInner":0,"paddingOuter":0.16},"axis":{"title":null,"labels":false,"tickSize":5,"tickWidth":1.5,"domainWidth":1.5,"offset":-0.7}}},
"layer":[
{"data":{"name":"b2out"},"transform":[{"calculate":"split(datum.g,' ')[1]","as":"k"}],"mark":{"type":"circle","size":21,"opacity":1},"encoding":{"xOffset":{"field":"d","type":"quantitative","scale":{"domain":[-9,9],"range":[-9,9]}},"y":{"field":"v","type":"quantitative","scale":{"domain":[0,3],"range":[244.3,96.3]},"axis":{"values":[0,1,2,3],"format":"d","labelOverlap":false,"title":"Fork speed (kb/min)","titleFontSize":12,"labelFontSize":13,"tickSize":5,"tickWidth":1.5,"domainWidth":1.5,"labelPadding":4,"titlePadding":10,"offset":-3}},"color":{"field":"k","type":"nominal","scale":{"domain":["Ctrl","#1","#2"],"range":["#000000","#f4a23c","#e8453c"]},"legend":null}}},
{"data":{"name":"b2box"},"mark":{"type":"rule","color":"#111","strokeWidth":1.5},"encoding":{"y":{"field":"lo","type":"quantitative"},"y2":{"field":"hi"}}},
{"data":{"name":"b2box"},"mark":{"type":"bar","width":16.5,"fill":"white","stroke":"#111","strokeWidth":1.5},"encoding":{"y":{"field":"q1","type":"quantitative"},"y2":{"field":"q3"}}},
{"data":{"name":"b2box"},"mark":{"type":"tick","size":16.5,"thickness":1.5,"color":"#111"},"encoding":{"y":{"field":"m","type":"quantitative"}}}
]},
{"data":{"values":[{"x":0.2,"x2":2.82,"y":-0.74},{"x":3.21,"x2":5.83,"y":-0.74},{"x":6.22,"x2":8.83,"y":-0.74}]},"mark":{"type":"rule","color":"#111","strokeWidth":1},"encoding":{"x":{"field":"x","type":"quantitative","scale":{"domain":[0,9],"range":[6.85,220.15]},"axis":null},"x2":{"field":"x2"},"y":{"field":"y","type":"quantitative"}}},
{"data":{"values":[{"x":2.5,"y":2.61,"t":"***"},{"x":4.5,"y":2.61,"t":"***"},{"x":5.5,"y":2.61,"t":"***"},{"x":7.5,"y":2.61,"t":"***"},{"x":8.5,"y":2.61,"t":"***"},{"x":0.5,"y":-0.35,"t":"+"},{"x":3.5,"y":-0.35,"t":"+"},{"x":6.5,"y":-0.35,"t":"+"},{"x":-1.44,"y":-0.35,"t":"Ctrl si"},{"x":-1.72,"y":-0.65,"t":"SPOP si"},{"x":1.5,"y":-0.65,"t":"#1"},{"x":2.5,"y":-0.65,"t":"#2"},{"x":4.5,"y":-0.65,"t":"#1"},{"x":5.5,"y":-0.65,"t":"#2"},{"x":7.5,"y":-0.65,"t":"#1"},{"x":8.5,"y":-0.65,"t":"#2"},{"x":1.58,"y":-1.04,"t":"24h"},{"x":4.52,"y":-1.04,"t":"48h"},{"x":7.59,"y":-1.04,"t":"72h"}]},"mark":{"type":"text","fontSize":12.5,"baseline":"alphabetic","color":"#222"},"encoding":{"x":{"field":"x","type":"quantitative","scale":{"domain":[0,9],"range":[6.85,220.15]},"axis":null},"y":{"field":"y","type":"quantitative"},"text":{"field":"t"}}},
{"data":{"values":[{"x":1.45,"y":2.65,"t":"ns"}]},"mark":{"type":"text","fontSize":17,"baseline":"alphabetic","color":"#222"},"encoding":{"x":{"field":"x","type":"quantitative","scale":{"domain":[0,9],"range":[6.85,220.15]},"axis":null},"y":{"field":"y","type":"quantitative"},"text":{"field":"t"}}}
]},
{"width":1,"height":1,"data":{"name":"blank"},"mark":{"type":"point","opacity":0},"encoding":{}},
{"width":1,"height":1,"data":{"name":"blank"},"mark":{"type":"point","opacity":0},"encoding":{}},

{"width":36,"height":1,"title":{"text":"C","anchor":"start","frame":"group","dx":10,"dy":105,"fontSize":18,"fontWeight":"bold","baseline":"alphabetic"},"data":{"name":"blank"},"mark":{"type":"point","opacity":0},"encoding":{}},
{"width":209,"height":258,"title":{"text":"PC3","anchor":"start","frame":"group","dx":39,"dy":109.3,"fontSize":12,"fontWeight":"bold","baseline":"alphabetic"},"data":{"name":"c1"},"mark":{"type":"line","strokeWidth":1.5},"encoding":{"x":{"field":"x","type":"quantitative","scale":{"domain":[0,2],"range":[36,258]},"axis":{"values":[0,0.5,1,1.5,2],"tickCount":10,"format":".1f","labelOverlap":false,"title":"Fork symmetry (CldU/IdU)","titleFontSize":12.5,"labelFontSize":12.5,"tickSize":5,"tickWidth":1.5,"domainWidth":1.5,"labelPadding":2,"titlePadding":3,"offset":-0.3}},"y":{"field":"n","type":"quantitative","scale":{"domain":[0,200],"range":[257.7,109.7]},"axis":{"values":[0,50,100,150,200],"labelOverlap":false,"title":"Number of forks","titleFontSize":12.5,"labelFontSize":12.5,"tickSize":5,"tickWidth":1.5,"domainWidth":1.5,"labelPadding":3,"titlePadding":6,"offset":-36}},"color":{"field":"s","type":"nominal","scale":{"domain":["Ctrl si","SPOP si#1"],"range":["#111111","#d8283c"]},"legend":{"orient":"none","legendX":167,"legendY":106,"title":null,"symbolType":"stroke","symbolSize":170,"symbolStrokeWidth":1.5,"labelFontSize":12.5,"rowPadding":2,"labelOffset":5}}}},
{"width":1,"height":1,"data":{"name":"blank"},"mark":{"type":"point","opacity":0},"encoding":{}},
{"width":88,"height":258,"title":{"text":"U2OS","anchor":"start","frame":"group","dx":6.7,"dy":109,"fontSize":12,"fontWeight":"bold","baseline":"alphabetic"},"data":{"name":"c2"},"mark":{"type":"line","strokeWidth":1.5},"encoding":{"x":{"field":"x","type":"quantitative","scale":{"domain":[0,2],"range":[3.7,225.7]},"axis":{"values":[0,0.5,1,1.5,2],"tickCount":10,"format":".1f","labelOverlap":false,"title":"Fork symmetry (CldU/IdU)","titleFontSize":12.5,"labelFontSize":12.5,"tickSize":5,"tickWidth":1.5,"domainWidth":1.5,"labelPadding":2,"titlePadding":1,"offset":2}},"y":{"field":"n","type":"quantitative","scale":{"domain":[0,80],"range":[260,112]},"axis":{"values":[0,20,40,60,80],"labelOverlap":false,"title":"Number of forks","titleFontSize":12.5,"labelFontSize":12.5,"tickSize":5,"tickWidth":1.5,"domainWidth":1.5,"labelPadding":3,"titlePadding":6,"offset":-3.7}},"color":{"field":"s","type":"nominal","scale":{"domain":["Ctrl si","SPOP si#1","SPOP si#2"],"range":["#111111","#ec9c45","#e0524a"]},"legend":{"orient":"none","legendX":145,"legendY":113,"title":null,"symbolType":"stroke","symbolSize":270,"symbolStrokeWidth":1.5,"labelFontSize":12.5,"rowPadding":4.5,"labelOffset":5}}}},
{"width":1,"height":1,"data":{"name":"blank"},"mark":{"type":"point","opacity":0},"encoding":{}},
{"width":1,"height":1,"data":{"name":"blank"},"mark":{"type":"point","opacity":0},"encoding":{}},

{"width":36,"height":1,"title":{"text":"D","anchor":"start","frame":"group","dx":12.7,"dy":100,"fontSize":18,"fontWeight":"bold","baseline":"alphabetic"},"data":{"name":"blank"},"mark":{"type":"point","opacity":0},"encoding":{}},
{"width":1,"height":1,"data":{"name":"blank"},"mark":{"type":"point","opacity":0},"encoding":{}},
{"width":1,"height":1,"data":{"name":"blank"},"mark":{"type":"point","opacity":0},"encoding":{}},
{"width":88,"height":176,"title":{"text":"E","anchor":"start","frame":"group","dx":-51,"dy":97,"fontSize":18,"fontWeight":"bold","baseline":"alphabetic"},
"encoding":{"x":{"field":"x","type":"quantitative","scale":{"domain":[0,112],"range":[0.3,112.3]},"axis":null},"y":{"field":"y","type":"quantitative","scale":{"domain":[0,112],"range":[64.7,176]},"axis":null}},
"layer":[
{"data":{"values":[{"x":0,"x2":112,"y":0,"y2":112}]},"mark":{"type":"rect","color":"#020716"},"encoding":{"x2":{"field":"x2"},"y2":{"field":"y2"}}},
{"data":{"values":[{"x":34,"y":29,"w":24,"a":15,"k":"dapi"},{"x":81,"y":9,"w":21,"a":10,"k":"edu"},{"x":78,"y":27,"w":22,"a":80,"k":"dapi"},{"x":18,"y":54,"w":24,"a":5,"k":"dapi"},{"x":54,"y":97,"w":23,"a":-15,"k":"dapi"},{"x":100,"y":101,"w":21,"a":70,"k":"dapi"},{"x":31,"y":110,"w":12,"a":0,"k":"dapi"}]},"mark":{"type":"point","filled":true,"opacity":1,"shape":"M-1,0A1,.75,0,1,0,1,0A1,.75,0,1,0,-1,0Z"},"encoding":{"size":{"field":"w","type":"quantitative","scale":{"domain":[12,24],"range":[144,576]},"legend":null},"angle":{"field":"a","type":"quantitative","scale":null},"color":{"field":"k","type":"nominal","scale":{"domain":["dapi","edu"],"range":["#1b7d99","#a85c8c"]},"legend":null}}},
{"data":{"values":[{"x":41,"y":31},{"x":38,"y":33},{"x":28,"y":22},{"x":25,"y":56},{"x":11,"y":50},{"x":60,"y":87},{"x":59,"y":95},{"x":77,"y":34}]},"mark":{"type":"circle","size":4,"color":"#8fe8b0","opacity":1}},
{"data":{"values":[{"x":47,"y":38,"a":315},{"x":69,"y":39,"a":60},{"x":37,"y":54,"a":270},{"x":68,"y":84,"a":240}]},"mark":{"type":"point","shape":"triangle-up","filled":true,"size":35,"color":"white","opacity":1},"encoding":{"angle":{"field":"a","type":"quantitative","scale":null}}},
{"data":{"values":[{"x":97,"x2":109,"y":109}]},"mark":{"type":"rule","color":"white","strokeWidth":1.5},"encoding":{"x2":{"field":"x2"}}},
{"data":{"values":[{"x":54,"y":-2,"t":"DAPI"}]},"mark":{"type":"text","fontSize":12.5,"baseline":"alphabetic","color":"#222"},"encoding":{"text":{"field":"t"}}},
{"data":{"values":[{"x":59,"y":126,"t":"53BP1"}]},"mark":{"type":"text","fontSize":12.5,"baseline":"alphabetic","color":"#2f9e5f"},"encoding":{"text":{"field":"t"}}},
{"data":{"values":[{"x":117,"y":53.7,"t":"EdU"}]},"mark":{"type":"text","fontSize":12.5,"angle":90,"color":"#d8384f"},"encoding":{"text":{"field":"t"}}}
]},
{"width":1,"height":1,"data":{"name":"blank"},"mark":{"type":"point","opacity":0},"encoding":{}},
{"width":100,"height":176,"title":{"text":"F","anchor":"start","frame":"group","dx":-35.8,"dy":97,"fontSize":18,"fontWeight":"bold","baseline":"alphabetic"},
"encoding":{"x":{"field":"x","type":"quantitative","scale":{"domain":[0,112],"range":[-0.5,112]},"axis":null},"y":{"field":"y","type":"quantitative","scale":{"domain":[0,112],"range":[64.7,176]},"axis":null}},
"layer":[
{"data":{"values":[{"x":0,"x2":112,"y":0,"y2":112}]},"mark":{"type":"rect","color":"#010410"},"encoding":{"x2":{"field":"x2"},"y2":{"field":"y2"}}},
{"data":{"values":[{"x":18,"y":30,"w":27,"a":80},{"x":70,"y":43,"w":25,"a":20},{"x":46,"y":93,"w":24,"a":30}]},"mark":{"type":"point","filled":true,"opacity":1,"color":"#1476c4","shape":"M-1,0A1,.75,0,1,0,1,0A1,.75,0,1,0,-1,0Z"},"encoding":{"size":{"field":"w","type":"quantitative","scale":{"domain":[12,24],"range":[144,576]},"legend":null},"angle":{"field":"a","type":"quantitative","scale":null}}},
{"data":{"values":[{"x":4,"y":45,"a":60},{"x":50,"y":41,"a":90},{"x":40,"y":73,"a":140}]},"mark":{"type":"point","shape":"triangle-up","filled":true,"size":35,"color":"white","opacity":1},"encoding":{"angle":{"field":"a","type":"quantitative","scale":null}}},
{"data":{"values":[{"x":98,"x2":109,"y":109}]},"mark":{"type":"rule","color":"white","strokeWidth":1.5},"encoding":{"x2":{"field":"x2"}}},
{"data":{"values":[{"x":55,"y":-9,"t":"DAPI"}]},"mark":{"type":"text","fontSize":12.5,"baseline":"alphabetic","color":"#222"},"encoding":{"text":{"field":"t"}}}
]},

{"width":36,"height":1,"data":{"name":"blank"},"mark":{"type":"point","opacity":0},"encoding":{}},
{"width":209,"height":138,"data":{"name":"d"},
"encoding":{"x":{"field":"t","type":"nominal","scale":{"domain":["48 h","72 h"],"range":[26,151.7],"paddingInner":0.27,"paddingOuter":0.135},"axis":{"title":null,"labelAngle":0,"labelFontSize":12,"tickBand":"extent","tickSize":3,"labelPadding":5}},"xOffset":{"field":"g","type":"nominal","scale":{"domain":["Ctrl si","SPOP si#1","SPOP si#2","SPOP si#3"],"paddingInner":0,"paddingOuter":0}}},
"layer":[
{"mark":{"type":"bar"},"encoding":{"y":{"field":"v","type":"quantitative","scale":{"domain":[0,120],"range":[138,-26]},"axis":{"values":[0,20,40,60,80,100,120],"tickCount":10,"labelOverlap":false,"title":["Mean EdU intensity in S-Phase","(% of Ctrl si)"],"titleFontSize":12.5,"titleLineHeight":15,"labelFontSize":9.5,"tickSize":3,"labelPadding":2,"titlePadding":0,"offset":-26}},"color":{"field":"g","type":"nominal","scale":{"domain":["Ctrl si","SPOP si#1","SPOP si#2","SPOP si#3"],"range":["#5f6262","#a9acaa","#7a7e7e","#454848"]},"legend":{"orient":"none","legendX":153,"legendY":44,"title":null,"symbolType":"square","symbolSize":64,"symbolStrokeWidth":0,"labelFontSize":12.5,"rowPadding":10.5,"labelOffset":-3}}}},
{"mark":{"type":"rule","color":"#111","strokeWidth":1.5},"encoding":{"y":{"field":"lo","type":"quantitative"},"y2":{"field":"hi"}}},
{"transform":[{"filter":"datum.g!='Ctrl si'"}],"mark":{"type":"text","text":"*","fontSize":11,"baseline":"alphabetic","dy":1,"color":"#222"},"encoding":{"y":{"field":"hi","type":"quantitative"}}}
]},
{"width":1,"height":1,"data":{"name":"blank"},"mark":{"type":"point","opacity":0},"encoding":{}},
{"width":88,"height":138,"data":{"name":"e"},
"encoding":{"x":{"field":"g","type":"nominal","sort":null,"scale":{"domain":["Ctrl si","SPOP si#1","SPOP si#2","SPOP si#3"],"range":[0,64],"paddingInner":0,"paddingOuter":0.78},"axis":{"title":null,"labels":false,"ticks":false}}},
"layer":[
{"mark":{"type":"bar"},"encoding":{"y":{"field":"v","type":"quantitative","scale":{"domain":[0,2.5],"range":[138,24]},"axis":{"values":[0,0.5,1,1.5,2,2.5],"tickCount":10,"labelOverlap":false,"labelExpr":"replace(format(datum.value,''),'.',',')","title":["53BP1 bodies","(Average per G1 cell)"],"titleFontSize":12,"titleLineHeight":15,"labelFontSize":9.5,"tickSize":3,"labelPadding":2,"titlePadding":11}},"color":{"field":"g","type":"nominal","scale":{"domain":["Ctrl si","SPOP si#1","SPOP si#2","SPOP si#3"],"range":["#5f6262","#a9acaa","#7a7e7e","#454848"]},"legend":{"orient":"none","legendX":64,"legendY":44,"title":null,"symbolType":"square","symbolSize":64,"symbolStrokeWidth":0,"labelFontSize":12.5,"rowPadding":10.5,"labelOffset":-3}}}},
{"mark":{"type":"rule","color":"#111","strokeWidth":1.5},"encoding":{"y":{"field":"lo","type":"quantitative"},"y2":{"field":"hi"}}},
{"transform":[{"filter":"datum.g!='Ctrl si'"}],"mark":{"type":"text","text":"*","fontSize":11,"baseline":"alphabetic","dy":1,"color":"#222"},"encoding":{"y":{"field":"hi","type":"quantitative"}}}
]},
{"width":1,"height":1,"data":{"name":"blank"},"mark":{"type":"point","opacity":0},"encoding":{}},
{"width":100,"height":138,"data":{"name":"f"},
"encoding":{"x":{"field":"g","type":"nominal","sort":null,"scale":{"domain":["Ctrl si","SPOP si#1","SPOP si#2","SPOP si#3"],"range":[0,65],"paddingInner":0,"paddingOuter":0.78},"axis":{"title":null,"labels":false,"ticks":false}}},
"layer":[
{"mark":{"type":"bar"},"encoding":{"y":{"field":"v","type":"quantitative","scale":{"domain":[0,35],"range":[138,23]},"axis":{"values":[0,5,10,15,20,25,30,35],"tickCount":10,"labelOverlap":false,"title":"Cells with micronuclei (%)","titleFontSize":12.5,"titleY":70,"labelFontSize":10,"tickSize":3,"labelPadding":2,"titlePadding":7}},"color":{"field":"g","type":"nominal","scale":{"domain":["Ctrl si","SPOP si#1","SPOP si#2","SPOP si#3"],"range":["#5f6262","#a9acaa","#7a7e7e","#454848"]},"legend":{"orient":"none","legendX":64,"legendY":30,"title":null,"symbolType":"square","symbolSize":64,"symbolStrokeWidth":0,"labelFontSize":12.5,"rowPadding":10.5,"labelOffset":-3}}}},
{"mark":{"type":"rule","color":"#111","strokeWidth":1.5},"encoding":{"y":{"field":"lo","type":"quantitative"},"y2":{"field":"hi"}}},
{"transform":[{"filter":"datum.g!='Ctrl si'"}],"mark":{"type":"text","text":"*","fontSize":11,"baseline":"alphabetic","dy":1,"color":"#222"},"encoding":{"y":{"field":"hi","type":"quantitative"}}}
]}
],
"columns":6,"align":"each","bounds":"flush","spacing":0}
